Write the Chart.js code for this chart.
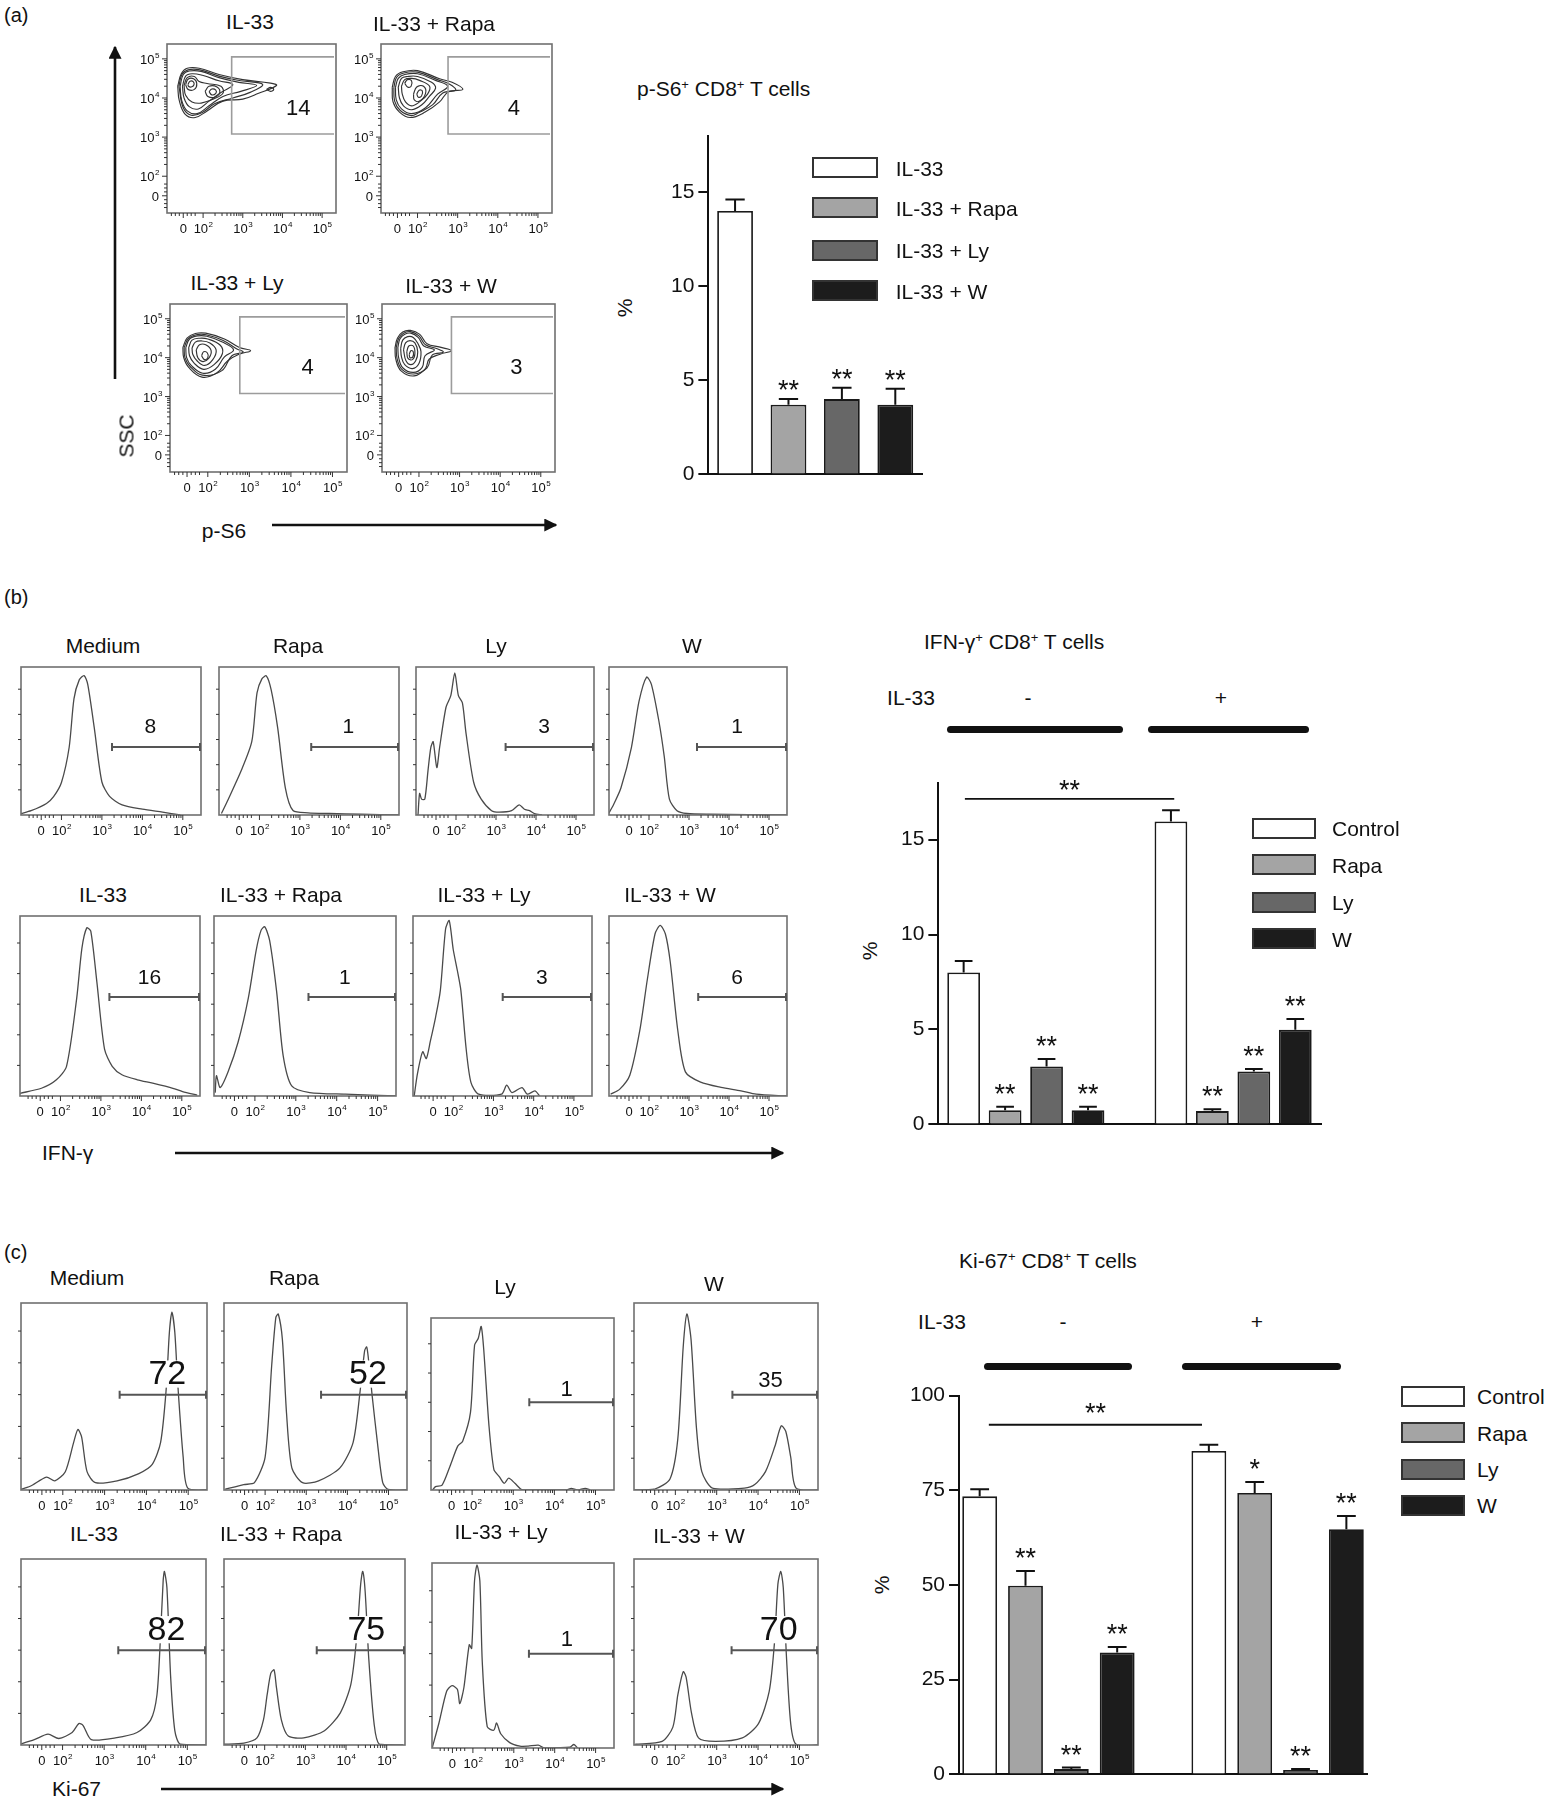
<!DOCTYPE html>
<html>
<head>
<meta charset="utf-8">
<title>IL-33 / mTOR CD8+ T cells</title>
<script src="https://cdn.jsdelivr.net/npm/chart.js@4.4.1/dist/chart.umd.min.js"></script>
<style>
  body { margin: 0; width: 1549px; height: 1800px; position: relative; overflow: hidden; background: #fff; color: #111;
         font-family: "Liberation Sans", Arial, Helvetica, sans-serif; }
  canvas { display: block; }
  .txt { position: absolute; white-space: nowrap; line-height: 1; transform: translate(-50%, -50%); }
  .txt sup { font-size: 62%; vertical-align: 0; position: relative; top: -0.55em; line-height: 0; }
  .key { position: absolute; box-sizing: border-box; border: 2px solid #333; height: 21px; }
  .heavy { position: absolute; height: 7px; background: #111; border-radius: 4px; }
  #arrows { position: absolute; left: 0; top: 0; }
</style>
</head>
<body>
<svg id="arrows" width="1549" height="1800"></svg>
<script>
// ---------- (a) p-S6 ----------
const pS6Groups = ['IL-33', 'IL-33 + Rapa', 'IL-33 + Ly', 'IL-33 + W'];
const pS6Mean = [14.0, 3.7, 4.0, 3.7];
const pS6ErrTop = [14.6, 4.0, 4.6, 4.55];
const pS6Stars = ['', '**', '**', '**'];
const pS6GateText = ['14', '4', '4', '3'];
const pS6GateStart = [2.72, 2.76, 2.77, 2.80];

// contour rings [p-S6, SSC] in display decades
const contourIL33 = [
  [[1.36,4.3],[1.45,4.62],[1.6,4.76],[1.9,4.76],[2.4,4.6],[3.0,4.47],[3.7,4.38],[3.85,4.32],[3.4,4.12],[3.0,3.97],[2.5,3.92],[2.1,3.67],[1.8,3.5],[1.55,3.58],[1.4,3.93],[1.36,4.3]],
  [[1.39,4.3],[1.47,4.61],[1.62,4.72],[1.92,4.72],[2.4,4.56],[2.95,4.44],[3.5,4.35],[3.2,4.15],[2.75,4.0],[2.3,3.86],[1.98,3.63],[1.7,3.56],[1.5,3.75],[1.39,4.3]],
  [[1.42,4.3],[1.5,4.6],[1.65,4.69],[1.95,4.68],[2.4,4.52],[2.9,4.4],[3.35,4.32],[2.95,4.17],[2.5,4.04],[2.15,3.8],[1.85,3.6],[1.6,3.67],[1.46,3.94],[1.42,4.3]],
  [[1.48,4.3],[1.56,4.56],[1.72,4.62],[1.98,4.58],[2.4,4.44],[2.75,4.34],[2.45,4.14],[2.15,3.92],[1.88,3.72],[1.65,3.78],[1.52,4.0],[1.48,4.3]],
  [[1.52,4.32],[1.6,4.52],[1.78,4.55],[1.9,4.42],[2.1,4.37],[2.45,4.3],[2.5,4.12],[2.25,3.97],[1.95,3.87],[1.72,3.9],[1.56,4.07],[1.52,4.32]],
  [[1.56,4.34],[1.62,4.48],[1.76,4.49],[1.84,4.37],[1.78,4.22],[1.62,4.22],[1.56,4.34]],
  [[2.05,4.17],[2.15,4.3],[2.35,4.28],[2.42,4.14],[2.3,4.02],[2.12,4.04],[2.05,4.17]],
  [[1.62,4.35],[1.67,4.43],[1.75,4.42],[1.77,4.34],[1.7,4.28],[1.63,4.3],[1.62,4.35]],
  [[2.15,4.16],[2.22,4.23],[2.32,4.2],[2.32,4.12],[2.22,4.08],[2.15,4.16]],
  [[3.6,4.22],[3.7,4.27],[3.78,4.22],[3.7,4.17],[3.6,4.22]]
];
const contourRapa = [
  [[1.37,4.27],[1.45,4.55],[1.64,4.67],[2.0,4.7],[2.55,4.49],[2.86,4.4],[3.13,4.22],[2.77,4.16],[2.55,3.9],[2.19,3.64],[1.82,3.5],[1.55,3.64],[1.39,3.9],[1.37,4.27]],
  [[1.41,4.27],[1.48,4.53],[1.66,4.64],[2.0,4.66],[2.5,4.47],[2.8,4.35],[2.95,4.2],[2.63,4.13],[2.38,3.83],[2.02,3.62],[1.84,3.55],[1.57,3.68],[1.43,3.92],[1.41,4.27]],
  [[1.45,4.27],[1.52,4.5],[1.68,4.6],[2.0,4.62],[2.45,4.45],[2.75,4.3],[2.5,4.1],[2.2,3.75],[1.85,3.6],[1.6,3.72],[1.47,3.95],[1.45,4.27]],
  [[1.52,4.28],[1.6,4.5],[1.75,4.55],[2.0,4.55],[2.35,4.4],[2.45,4.25],[2.3,4.05],[2.1,3.82],[1.85,3.7],[1.65,3.8],[1.55,4.0],[1.52,4.28]],
  [[1.6,4.3],[1.68,4.47],[1.85,4.5],[2.05,4.45],[2.3,4.3],[2.25,4.1],[2.05,3.9],[1.85,3.8],[1.7,3.9],[1.62,4.1],[1.6,4.3]],
  [[1.68,4.38],[1.75,4.47],[1.85,4.44],[1.84,4.3],[1.75,4.28],[1.68,4.38]],
  [[1.9,4.1],[1.98,4.28],[2.15,4.3],[2.2,4.12],[2.05,3.92],[1.92,3.95],[1.9,4.1]],
  [[1.98,4.1],[2.04,4.2],[2.12,4.18],[2.1,4.05],[2.02,4.02],[1.98,4.1]]
];
const contourLy = [
  [[1.40,4.26],[1.5,4.5],[1.70,4.62],[1.95,4.63],[2.40,4.48],[2.76,4.26],[3.03,4.18],[2.76,4.09],[2.48,3.92],[2.22,3.61],[1.86,3.50],[1.54,3.75],[1.42,4.0],[1.40,4.26]],
  [[1.43,4.26],[1.53,4.49],[1.72,4.59],[1.96,4.59],[2.37,4.44],[2.69,4.23],[2.85,4.14],[2.58,4.05],[2.33,3.66],[1.87,3.55],[1.57,3.78],[1.45,4.0],[1.43,4.26]],
  [[1.47,4.26],[1.56,4.48],[1.75,4.56],[1.98,4.55],[2.35,4.4],[2.62,4.2],[2.4,4.02],[2.18,3.7],[1.88,3.6],[1.6,3.8],[1.49,4.0],[1.47,4.26]],
  [[1.54,4.26],[1.62,4.45],[1.8,4.5],[2.0,4.48],[2.3,4.32],[2.35,4.1],[2.15,3.82],[1.9,3.7],[1.67,3.86],[1.56,4.05],[1.54,4.26]],
  [[1.62,4.25],[1.7,4.4],[1.85,4.43],[2.05,4.38],[2.2,4.2],[2.12,3.95],[1.92,3.8],[1.74,3.92],[1.64,4.08],[1.62,4.25]],
  [[1.72,4.2],[1.8,4.33],[1.95,4.33],[2.08,4.18],[2.02,3.98],[1.88,3.9],[1.76,4.0],[1.72,4.2]],
  [[1.85,4.05],[1.9,4.15],[1.99,4.12],[2.0,4.0],[1.92,3.95],[1.85,4.05]]
];
const contourW = [
  [[1.41,4.26],[1.47,4.5],[1.60,4.66],[1.79,4.70],[2.02,4.6],[2.2,4.36],[2.52,4.27],[2.80,4.18],[2.52,4.09],[2.25,3.96],[2.16,3.72],[1.88,3.53],[1.56,3.66],[1.43,3.96],[1.41,4.26]],
  [[1.44,4.26],[1.5,4.49],[1.62,4.63],[1.79,4.67],[2.0,4.56],[2.16,4.33],[2.45,4.23],[2.6,4.14],[2.33,4.07],[2.2,3.74],[1.87,3.58],[1.58,3.7],[1.46,3.98],[1.44,4.26]],
  [[1.48,4.26],[1.53,4.48],[1.65,4.6],[1.8,4.63],[1.98,4.52],[2.12,4.3],[2.38,4.2],[2.15,4.05],[2.08,3.75],[1.86,3.62],[1.6,3.74],[1.5,4.0],[1.48,4.26]],
  [[1.55,4.24],[1.6,4.45],[1.72,4.54],[1.86,4.52],[1.98,4.35],[2.05,4.15],[2.0,3.85],[1.84,3.72],[1.65,3.82],[1.57,4.02],[1.55,4.24]],
  [[1.62,4.2],[1.67,4.38],[1.78,4.44],[1.9,4.38],[1.97,4.15],[1.92,3.92],[1.8,3.82],[1.68,3.92],[1.62,4.2]],
  [[1.7,4.15],[1.75,4.3],[1.86,4.3],[1.9,4.1],[1.84,3.95],[1.73,3.98],[1.7,4.15]],
  [[1.76,4.08],[1.8,4.18],[1.86,4.15],[1.85,4.02],[1.78,4.0],[1.76,4.08]]
];

// ---------- (b) IFN-gamma ----------
const treatments = ['Control', 'Rapa', 'Ly', 'W'];
const ifnMinus = [8.0, 0.75, 3.05, 0.75];
const ifnMinusErr = [8.6, 0.93, 3.45, 0.93];
const ifnPlus = [15.95, 0.7, 2.78, 4.98];
const ifnPlusErr = [16.55, 0.8, 2.92, 5.55];
const ifnStarsMinus = ['', '**', '**', '**'];
const ifnStarsPlus = ['', '**', '**', '**'];
const ifnHistTitles = ['Medium', 'Rapa', 'Ly', 'W', 'IL-33', 'IL-33 + Rapa', 'IL-33 + Ly', 'IL-33 + W'];
const ifnPercents = ['8', '1', '3', '1', '16', '1', '3', '6'];
const ifnGateStart = [3.25, 3.28, 3.24, 3.2, 3.21, 3.31, 3.23, 3.23];
const ifnMedium = [[1.0,1],[1.25,2.9],[1.63,7.8],[1.81,12.6],[2.0,22],[2.19,45.6],[2.31,78.6],[2.44,91.3],[2.56,94.2],[2.65,88.3],[2.81,59.2],[3.0,22.3],[3.19,12.6],[3.5,6.8],[4.0,3.9],[4.5,1.9],[4.94,0]];
const ifnRapa = [[1.06,1],[1.23,10.7],[1.55,30],[1.81,49.5],[1.94,82.5],[2.06,92],[2.17,94],[2.29,84.5],[2.45,59],[2.64,18.4],[2.83,3],[3.2,1.5],[3.73,1],[4.5,0.5],[5.45,0]];
const ifnLy = [[1.05,0],[1.09,14.6],[1.14,10.7],[1.22,10.7],[1.3,30],[1.37,45.6],[1.43,49.5],[1.52,32],[1.59,45.6],[1.75,72.8],[1.87,80.6],[1.97,96],[2.06,80.6],[2.16,75.7],[2.25,55.3],[2.44,22.3],[2.63,10.7],[2.89,2.9],[3.08,1.9],[3.39,2.9],[3.58,6.8],[3.71,3.9],[3.84,2.9],[3.96,1],[4.15,0]];
const ifnW = [[0.99,1],[1.11,6.8],[1.3,18.4],[1.56,45.6],[1.75,76.7],[1.94,93.2],[2.06,88.3],[2.25,63],[2.38,39.8],[2.51,10.7],[2.7,2.9],[2.95,1],[3.5,0.5],[5.45,0]];
const ifnIL33 = [[1.0,1.5],[1.53,4.3],[1.9,9],[2.15,16.5],[2.4,54],[2.53,82],[2.65,93.4],[2.75,91.6],[2.9,63.4],[3.09,26],[3.28,16.5],[3.52,11.8],[3.9,9],[4.28,7.1],[4.78,4.3],[5.02,2.4],[5.38,0.5]];
const ifnIL33Rapa = [[1.03,1.9],[1.06,11.3],[1.15,4.7],[1.34,13.2],[1.59,30],[1.84,54.5],[2.03,80.8],[2.15,92],[2.24,94],[2.36,86.5],[2.53,58.3],[2.69,22.6],[2.9,5.6],[3.34,1.9],[4.21,1],[5.45,0]];
const ifnIL33Ly = [[1.03,0],[1.11,12.3],[1.24,24.6],[1.33,20.8],[1.43,30.3],[1.56,43.6],[1.68,58.7],[1.81,92.8],[1.9,97.5],[2.0,81.4],[2.1,70],[2.19,58.7],[2.32,26.5],[2.44,7.6],[2.63,1],[3.2,1],[3.33,6],[3.46,1.9],[3.71,4.7],[3.84,1],[4.03,2.8],[4.15,0]];
const ifnIL33W = [[1.04,1],[1.27,3.8],[1.52,11.5],[1.77,36.4],[1.96,65],[2.15,90],[2.28,94.8],[2.41,90],[2.53,74.7],[2.72,36.4],[2.91,13.4],[3.29,7.7],[3.8,4.8],[4.3,2.9],[4.68,1],[5.45,0]];

// ---------- (c) Ki-67 ----------
const kiMinus = [73.4, 49.8, 1.4, 32.2];
const kiMinusErr = [75.3, 53.7, 1.8, 33.6];
const kiPlus = [85.4, 74.3, 1.13, 64.7];
const kiPlusErr = [87.0, 77.2, 1.4, 68.2];
const kiStarsMinus = ['', '**', '**', '**'];
const kiStarsPlus = ['', '*', '**', '**'];
const kiHistTitles = ['Medium', 'Rapa', 'Ly', 'W', 'IL-33', 'IL-33 + Rapa', 'IL-33 + Ly', 'IL-33 + W'];
const kiPercents = ['72', '52', '1', '35', '82', '75', '1', '70'];
const kiGateStart = [3.36, 3.36, 3.39, 3.38, 3.34, 3.28, 3.37, 3.36];
const kiMedium = [[0.94,0],[1.22,2],[1.61,6.9],[1.81,4.9],[2.06,9.8],[2.26,25.5],[2.36,32.4],[2.45,28.4],[2.58,9.8],[2.78,3.9],[3.3,4.9],[3.82,8.8],[4.14,13.7],[4.34,25.5],[4.47,52.9],[4.55,84.3],[4.61,95.1],[4.68,84.3],[4.75,56.9],[4.88,17.6],[4.99,1],[5.5,0]];
const kiRapa = [[1.03,0.4],[1.48,2.9],[1.74,3.9],[2.0,17.6],[2.16,66.7],[2.26,92.2],[2.32,94.1],[2.42,80.4],[2.52,41.2],[2.65,11.8],[2.91,3.9],[3.3,4.9],[3.82,11.8],[4.14,25.5],[4.31,52.9],[4.42,74.5],[4.47,76.5],[4.51,70.6],[4.6,51],[4.73,25.5],[4.86,3.9],[4.99,0.4],[5.5,0]];
const kiLy = [[1.04,0],[1.11,2],[1.27,2.9],[1.46,13.7],[1.65,25.5],[1.77,28.4],[1.96,45.1],[2.06,84.3],[2.15,88.2],[2.22,95.1],[2.28,82.4],[2.41,37.3],[2.53,11.8],[2.66,7.8],[2.78,3.9],[2.89,6.9],[3.04,3.9],[3.23,0],[4.3,0],[4.41,1],[4.56,0],[4.75,1],[4.87,0]];
const kiW = [[1.0,0],[1.49,0.4],[1.87,5.9],[2.06,27.5],[2.19,76.5],[2.28,94.1],[2.38,80.4],[2.51,33.3],[2.64,9.8],[2.9,1],[3.67,1],[3.92,2.9],[4.18,9.8],[4.41,23.5],[4.56,34.3],[4.67,31.4],[4.79,17.6],[4.92,1],[5.5,0]];
const kiIL33 = [[0.91,0],[1.32,2.9],[1.65,5.8],[1.91,3.5],[2.23,6.7],[2.39,11.5],[2.49,10.6],[2.69,2.9],[3.27,3.8],[3.79,6.7],[4.12,13.5],[4.27,26.9],[4.35,55.8],[4.42,88.5],[4.45,93.3],[4.51,84.6],[4.6,36.5],[4.7,7.7],[4.83,0.4],[5.45,0]];
const kiIL33Rapa = [[0.97,0.4],[1.49,1],[1.81,3.8],[1.97,13.5],[2.06,26.9],[2.15,38.5],[2.23,40.4],[2.29,30.8],[2.41,13.5],[2.58,4.8],[2.96,3.8],[3.47,7.7],[3.86,17.3],[4.12,32.7],[4.27,59.6],[4.36,86.5],[4.41,93.3],[4.47,82.7],[4.56,46.2],[4.69,11.5],[4.82,0.4],[5.4,0]];
const kiIL33Ly = [[1.01,0.4],[1.17,13.5],[1.36,30.8],[1.49,33.7],[1.62,31.7],[1.68,24],[1.78,32.7],[1.91,55.8],[1.97,53.8],[2.04,90.4],[2.1,99],[2.17,90.4],[2.23,46.2],[2.35,11.5],[2.51,9.6],[2.58,13.5],[2.68,7.7],[2.9,2.9],[3.15,1],[3.35,1],[3.6,1.5],[3.75,0],[4.37,0.4],[4.47,1.9],[4.56,0]];
const kiIL33W = [[1.03,0.4],[1.68,1.9],[1.94,9.6],[2.06,26.9],[2.19,39.4],[2.26,36.5],[2.39,17.3],[2.56,3.8],[2.97,1.9],[3.62,3.8],[4.01,11.5],[4.27,28.8],[4.4,55.8],[4.48,86.5],[4.55,93.3],[4.61,84.6],[4.69,46.2],[4.79,11.5],[4.92,0.4],[5.5,0]];

// axis ticks of the flow plots (biexponential display, "0" sits at 1.5)
const flowTickPos = [1.5, 2, 3, 4, 5];
const flowTickExp = ['0', '2', '3', '4', '5'];
const histSideTicks = [17, 34, 51, 68, 85];

const fills = ['#ffffff', '#a4a4a4', '#676767', '#1c1c1c'];
const FAM = '"Liberation Sans", Arial, Helvetica, sans-serif';

Chart.defaults.font.family = FAM;
Chart.defaults.color = '#111';

const flowMinor = [1.2, 1.3, 1.4, 1.6, 1.7, 1.8];
for (let d = 2; d < 5; d++) for (let k = 2; k < 10; k++) flowMinor.push(d + Math.log10(k));

// ---------- helpers ----------
function T(html, x, y, size, mode) {
  const d = document.createElement('div');
  d.className = 'txt';
  d.innerHTML = html;
  d.style.left = x + 'px';
  d.style.top = y + 'px';
  d.style.fontSize = size + 'px';
  if (mode === 'left') d.style.transform = 'translate(0, -50%)';
  if (mode === 'rot') d.style.transform = 'translate(-50%, -50%) rotate(-90deg)';
  document.body.appendChild(d);
}

// create the chart twice: once to measure the axes, then sized so the plot area lands on target
function mount(target, makeCfg) {
  const wrap = document.createElement('div');
  wrap.style.position = 'absolute';
  const cv = document.createElement('canvas');
  wrap.appendChild(cv);
  document.body.appendChild(wrap);
  const tw = target[2] - target[0], th = target[3] - target[1];
  cv.width = Math.round(tw + 200);
  cv.height = Math.round(th + 200);
  const probe = new Chart(cv, makeCfg());
  const a = probe.chartArea;
  const padL = a.left, padT = a.top, padR = cv.width - a.right, padB = cv.height - a.bottom;
  probe.destroy();
  cv.width = Math.round(padL + tw + padR);
  cv.height = Math.round(padT + th + padB);
  const chart = new Chart(cv, makeCfg());
  wrap.style.left = (target[0] - chart.chartArea.left) + 'px';
  wrap.style.top = (target[1] - chart.chartArea.top) + 'px';
  return chart;
}

function powLabel(ctx, px, base, exp, size, align) {
  ctx.fillStyle = '#111';
  ctx.textBaseline = 'alphabetic';
  ctx.font = size + 'px ' + FAM;
  if (exp === '0') { ctx.textAlign = align; ctx.fillText('0', px, base); return; }
  const w1 = ctx.measureText('10').width;
  ctx.font = (size * 0.62) + 'px ' + FAM;
  const w2 = ctx.measureText(exp).width;
  const x0 = align === 'center' ? px - (w1 + w2) / 2 : px - w1 - w2;
  ctx.textAlign = 'left';
  ctx.font = size + 'px ' + FAM;
  ctx.fillText('10', x0, base);
  ctx.font = (size * 0.62) + 'px ' + FAM;
  ctx.fillText(exp, x0 + w1 + 0.5, base - size * 0.45);
}

function flowFrame(o) {
  return {
    id: 'flowFrame',
    afterDatasetsDraw(chart) {
      const { ctx, chartArea: a, scales: { x, y } } = chart;
      ctx.save();
      ctx.strokeStyle = '#707070';
      ctx.lineWidth = 1.6;
      ctx.strokeRect(a.left, a.top, a.right - a.left, a.bottom - a.top);
      // bottom ticks
      ctx.strokeStyle = '#333';
      ctx.lineWidth = 1;
      ctx.beginPath();
      flowMinor.forEach(v => { const px = x.getPixelForValue(v); ctx.moveTo(px, a.bottom); ctx.lineTo(px, a.bottom + 3); });
      flowTickPos.forEach(v => { const px = x.getPixelForValue(v); ctx.moveTo(px, a.bottom); ctx.lineTo(px, a.bottom + 5); });
      ctx.stroke();
      flowTickPos.forEach((v, i) => powLabel(ctx, x.getPixelForValue(v), a.bottom + 20, flowTickExp[i], 13, 'center'));

      ctx.beginPath();
      if (o.contour) {
        flowMinor.forEach(v => { const py = y.getPixelForValue(v); ctx.moveTo(a.left, py); ctx.lineTo(a.left - 3, py); });
        flowTickPos.forEach(v => { const py = y.getPixelForValue(v); ctx.moveTo(a.left, py); ctx.lineTo(a.left - 5, py); });
      } else {
        histSideTicks.forEach(v => { const py = y.getPixelForValue(v); ctx.moveTo(a.left, py); ctx.lineTo(a.left - 3, py); });
      }
      ctx.stroke();
      if (o.contour) {
        flowTickPos.forEach((v, i) => powLabel(ctx, a.left - 8, y.getPixelForValue(v) + 5, flowTickExp[i], 13, 'right'));
        // gate rectangle
        const gx = x.getPixelForValue(o.gate);
        const gt = y.getPixelForValue(5.05), gb = y.getPixelForValue(3.08);
        ctx.strokeStyle = '#9c9c9c';
        ctx.lineWidth = 1.6;
        ctx.beginPath();
        ctx.moveTo(a.right - 2, gt); ctx.lineTo(gx, gt); ctx.lineTo(gx, gb); ctx.lineTo(a.right - 2, gb);
        ctx.stroke();
      } else {
        const gx = x.getPixelForValue(o.gate), gy = y.getPixelForValue(o.gateY);
        ctx.strokeStyle = '#555';
        ctx.lineWidth = 2;
        ctx.beginPath();
        ctx.moveTo(gx, gy); ctx.lineTo(a.right, gy);
        ctx.moveTo(gx, gy - 4); ctx.lineTo(gx, gy + 4);
        ctx.moveTo(a.right - 1, gy - 4); ctx.lineTo(a.right - 1, gy + 4);
        ctx.stroke();
      }
      // gate percentage
      const lx = x.getPixelForValue(o.labelX), ly = y.getPixelForValue(o.labelY);
      ctx.font = o.labelSize + 'px ' + FAM;
      ctx.textAlign = 'center';
      ctx.textBaseline = 'middle';
      if (o.labelBg) {
        const w = ctx.measureText(o.label).width;
        ctx.fillStyle = '#fff';
        ctx.fillRect(lx - w / 2 - 2, ly - o.labelSize * 0.4, w + 4, o.labelSize * 0.8);
      }
      ctx.fillStyle = '#111';
      ctx.fillText(o.label, lx, ly + 1);
      ctx.restore();
    }
  };
}

function flowCfg(datasets, frame, xr, yr) {
  return () => ({
    type: 'scatter',
    data: { datasets: datasets() },
    options: {
      responsive: false, maintainAspectRatio: false, animation: false, devicePixelRatio: 1, events: [],
      layout: { padding: { left: 40, right: 14, top: 6, bottom: 30 } },
      plugins: { legend: { display: false }, tooltip: { enabled: false } },
      scales: {
        x: { type: 'linear', min: xr[0], max: xr[1], display: false },
        y: { type: 'linear', min: yr[0], max: yr[1], display: false }
      }
    },
    plugins: [flowFrame(frame)]
  });
}

function contourPlot(target, rings, gate, label) {
  const ds = () => rings.map(r => ({
    data: r.map(p => ({ x: p[0], y: p[1] })),
    showLine: true, borderColor: '#333', borderWidth: 1.15, pointRadius: 0, tension: 0.4, fill: false
  }));
  return mount(target, flowCfg(ds, { contour: true, gate, label, labelX: 4.4, labelY: 3.75, labelSize: 22 }, [1.09, 5.35], [1.06, 5.38]));
}

function histPlot(target, curve, frame) {
  const ds = () => [{
    data: curve.map(p => ({ x: p[0], y: p[1] })),
    showLine: true, borderColor: '#4a4a4a', borderWidth: 1.3, pointRadius: 0, tension: 0.25, fill: false
  }];
  return mount(target, flowCfg(ds, frame, [1.0, 5.45], [0, 100]));
}

function barExtras(o) {
  return {
    id: 'barExtras',
    afterDatasetsDraw(chart) {
      const { ctx, scales: { x, y } } = chart;
      const bars = chart.getDatasetMeta(0).data;
      ctx.save();
      ctx.strokeStyle = '#111';
      ctx.fillStyle = '#111';
      ctx.lineWidth = 2;
      ctx.font = o.starSize + 'px ' + FAM;
      ctx.textAlign = 'center';
      ctx.textBaseline = 'alphabetic';
      bars.forEach((b, i) => {
        const ey = y.getPixelForValue(o.err[i]);
        const cap = b.width * 0.27;
        ctx.beginPath();
        ctx.moveTo(b.x, b.y); ctx.lineTo(b.x, ey);
        ctx.moveTo(b.x - cap, ey); ctx.lineTo(b.x + cap, ey);
        ctx.stroke();
        if (o.stars[i]) ctx.fillText(o.stars[i], b.x, ey - o.starGap);
      });
      if (o.sig) {
        const sy = y.getPixelForValue(o.sig.y);
        const x0 = x.getPixelForValue(o.sig.from), x1 = x.getPixelForValue(o.sig.to);
        ctx.lineWidth = 1.8;
        ctx.beginPath(); ctx.moveTo(x0, sy); ctx.lineTo(x1, sy); ctx.stroke();
        ctx.fillText('**', (x0 + x1) / 2, sy - o.sig.gap);
      }
      ctx.restore();
    }
  };
}

function barChart(target, o) {
  return mount(target, () => ({
    type: 'bar',
    data: {
      datasets: [{
        data: o.pos.map((p, i) => ({ x: p, y: o.vals[i] })),
        backgroundColor: o.colors, borderColor: '#1a1a1a', borderWidth: 1.8,
        barPercentage: o.barPct, categoryPercentage: 1
      }]
    },
    options: {
      responsive: false, maintainAspectRatio: false, animation: false, devicePixelRatio: 1, events: [],
      layout: { padding: { left: 4, right: 6, top: 16, bottom: 4 } },
      plugins: { legend: { display: false }, tooltip: { enabled: false } },
      scales: {
        x: { type: 'linear', offset: false, min: o.xMin, max: o.xMax, grid: { display: false, offset: false }, ticks: { display: false },
             border: { display: true, color: '#111', width: 2 } },
        y: { min: 0, max: o.yMax,
             afterBuildTicks: s => { s.ticks = o.yTicks.map(v => ({ value: v })); },
             grid: { drawOnChartArea: false, drawTicks: true, tickLength: 10, color: '#111', lineWidth: 2 },
             border: { display: true, color: '#111', width: 2 },
             ticks: { color: '#111', font: { size: 21 }, padding: 4 } }
      }
    },
    plugins: [barExtras(o)]
  }));
}

function legend(labels, left, right, centers, labelX) {
  labels.forEach((lab, i) => {
    const k = document.createElement('div');
    k.className = 'key';
    k.style.left = left + 'px';
    k.style.width = (right - left) + 'px';
    k.style.top = (centers[i] - 10.5) + 'px';
    k.style.background = fills[i];
    document.body.appendChild(k);
    T(lab, labelX, centers[i], 21, 'left');
  });
}

function heavy(x0, x1, y) {
  const d = document.createElement('div');
  d.className = 'heavy';
  d.style.left = x0 + 'px';
  d.style.width = (x1 - x0) + 'px';
  d.style.top = (y - 3.5) + 'px';
  document.body.appendChild(d);
}

// ---------- panel (a) ----------
T('(a)', 4, 15, 20, 'left');
const pS6Boxes = [[167, 44, 336, 213], [381, 44, 552, 213], [170, 304, 347, 472], [382, 304, 555, 472]];
const pS6TitlePos = [[250, 21], [434, 23], [237, 282], [451, 285]];
[contourIL33, contourRapa, contourLy, contourW].forEach((rings, i) => {
  contourPlot(pS6Boxes[i], rings, pS6GateStart[i], pS6GateText[i]);
  T(pS6Groups[i], pS6TitlePos[i][0], pS6TitlePos[i][1], 21);
});
T('SSC', 126, 436, 21, 'rot');
T('p-S6', 224, 530, 21);

barChart([708.5, 135.6, 922, 474], {
  pos: [0, 1, 2, 3], vals: pS6Mean, err: pS6ErrTop, stars: pS6Stars, colors: fills,
  xMin: -0.5, xMax: 3.5, barPct: 0.67, yMax: 18, yTicks: [0, 5, 10, 15], starSize: 27, starGap: 0
});
T('p-S6<sup>+</sup> CD8<sup>+</sup> T cells', 637, 88, 21, 'left');
T('%', 623.5, 308, 21, 'rot');
legend(pS6Groups, 812, 878, [167.6, 207.8, 250.3, 290.5], 895.7);

// ---------- panel (b) ----------
T('(b)', 4, 597, 20, 'left');
const ifnCurves = [ifnMedium, ifnRapa, ifnLy, ifnW, ifnIL33, ifnIL33Rapa, ifnIL33Ly, ifnIL33W];
const ifnBoxes = [[21, 667, 201, 815], [219, 667, 399, 815], [416, 667, 594, 815], [609, 667, 787, 815],
                  [20, 916, 200, 1096], [214, 916, 396, 1096], [413, 916, 592, 1096], [609, 916, 787, 1096]];
const ifnTitlePos = [[103, 645], [298, 645], [496, 645], [692, 645], [103, 894], [281, 894], [484, 894], [670, 894]];
ifnCurves.forEach((c, i) => {
  const top = i < 4;
  histPlot(ifnBoxes[i], c, { gate: ifnGateStart[i], gateY: top ? 46 : 55, label: ifnPercents[i],
                             labelX: 4.2, labelY: top ? 60 : 66, labelSize: 21 });
  T(ifnHistTitles[i], ifnTitlePos[i][0], ifnTitlePos[i][1], 21);
});
T('IFN-γ', 42, 1152, 21, 'left');

barChart([938.2, 782.4, 1321, 1124.2], {
  pos: [0, 1, 2, 3, 5, 6, 7, 8], vals: ifnMinus.concat(ifnPlus), err: ifnMinusErr.concat(ifnPlusErr),
  stars: ifnStarsMinus.concat(ifnStarsPlus), colors: fills.concat(fills),
  xMin: -0.61, xMax: 8.62, barPct: 0.79, yMax: 18, yTicks: [0, 5, 10, 15], starSize: 27, starGap: 4,
  sig: { from: 0.03, to: 5.08, y: 17.14, gap: 0 }
});
T('IFN-γ<sup>+</sup> CD8<sup>+</sup> T cells', 924, 641, 21, 'left');
T('IL-33', 911, 697, 21);
T('-', 1028, 697, 21);
T('+', 1221, 697, 21);
heavy(947, 1123, 729);
heavy(1148, 1309, 729);
T('%', 869, 951, 21, 'rot');
legend(treatments, 1252, 1316, [828, 864.7, 902, 938.7], 1332);

// ---------- panel (c) ----------
T('(c)', 4, 1252, 20, 'left');
const kiCurves = [kiMedium, kiRapa, kiLy, kiW, kiIL33, kiIL33Rapa, kiIL33Ly, kiIL33W];
const kiBoxes = [[21, 1303, 207, 1490], [224, 1303, 407, 1490], [431, 1318, 614, 1490], [634, 1303, 818, 1490],
                 [21, 1559, 206, 1745], [224, 1559, 405, 1745], [432, 1563, 614, 1748], [634, 1559, 818, 1745]];
const kiTitlePos = [[87, 1277], [294, 1277], [505, 1286], [714, 1283], [94, 1533], [281, 1533], [501, 1531], [699, 1535]];
kiCurves.forEach((c, i) => {
  const big = kiPercents[i].length > 1 && kiPercents[i] !== '35';
  histPlot(kiBoxes[i], c, {
    gate: kiGateStart[i], gateY: 51, label: kiPercents[i],
    labelX: big ? 4.5 : 4.3, labelY: big ? 62 : 59, labelSize: big ? 34 : 22, labelBg: big
  });
  T(kiHistTitles[i], kiTitlePos[i][0], kiTitlePos[i][1], 21);
});
T('Ki-67', 52, 1788, 21, 'left');

barChart([958.8, 1395.2, 1367, 1774.1], {
  pos: [0, 1, 2, 3, 5, 6, 7, 8], vals: kiMinus.concat(kiPlus), err: kiMinusErr.concat(kiPlusErr),
  stars: kiStarsMinus.concat(kiStarsPlus), colors: fills.concat(fills),
  xMin: -0.45, xMax: 8.45, barPct: 0.76, yMax: 100, yTicks: [0, 25, 50, 75, 100], starSize: 27, starGap: 4,
  sig: { from: 0.2, to: 4.85, y: 92.3, gap: 3 }
});
T('Ki-67<sup>+</sup> CD8<sup>+</sup> T cells', 959, 1260, 21, 'left');
T('IL-33', 942, 1321, 21);
T('-', 1063, 1321, 21);
T('+', 1257, 1321, 21);
heavy(984, 1132, 1366);
heavy(1182, 1341, 1366);
T('%', 881, 1585, 21, 'rot');
legend(treatments, 1401, 1465, [1396, 1432.6, 1469.4, 1505], 1477);

// ---------- axis arrows ----------
document.getElementById('arrows').innerHTML = `
  <defs><marker id="ah" viewBox="0 0 10 10" refX="9" refY="5" markerWidth="5" markerHeight="5" orient="auto">
    <path d="M0,0 L10,5 L0,10 z" fill="#111"/></marker></defs>
  <g stroke="#111" stroke-width="2.6" fill="none">
    <line x1="115" y1="379" x2="115" y2="47" marker-end="url(#ah)"/>
    <line x1="272" y1="525" x2="556" y2="525" marker-end="url(#ah)"/>
    <line x1="175" y1="1153" x2="783" y2="1153" marker-end="url(#ah)"/>
    <line x1="161" y1="1789" x2="783" y2="1789" marker-end="url(#ah)"/>
  </g>`;
</script>
</body>
</html>
